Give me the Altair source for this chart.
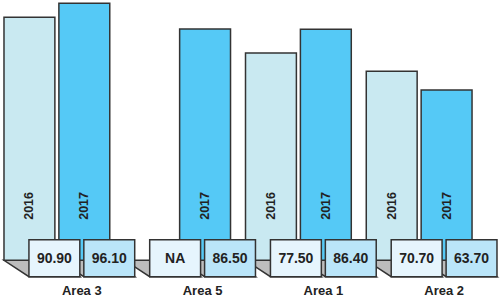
import altair as alt
import pandas as pd

# ---- data ----
areas = ["Area 3", "Area 5", "Area 1", "Area 2"]
years = ["2016", "2017"]
values_2016 = [90.90, None, 77.50, 70.70]
values_2017 = [96.10, 86.50, 86.40, 63.70]

# ---- layout / style constants (in scale units) ----
GROUP_PITCH = 2.2
BAR_W = 0.927
DEPTH_X = 0.4545
DEPTH_Y = 6.16

bar_colors = ["#c9e9f1", "#55c9f6"]
box_colors = ["#e6f5fd", "#bae5f9"]
STROKE = "#333333"
FONT = "Liberation Sans"

rows = []
floor_rows = []
for g, area in enumerate(areas):
    for j, (year, vals) in enumerate(zip(years, [values_2016, values_2017])):
        v = vals[g]
        left = g * GROUP_PITCH + j
        bar_id = f"b{g}{j}"
        rows.append(dict(
            area=area, year=year, value=v,
            left=left, right=left + BAR_W, mid=left + BAR_W / 2,
            bleft=left + DEPTH_X, bright=left + BAR_W + DEPTH_X,
            bmid=left + BAR_W / 2 + DEPTH_X,
            label=(f"{v:.2f}" if v is not None else "NA"),
        ))
        # parallelogram "floor" under each bar
        pts = [
            (left, 0.0, 0.0),
            (left + DEPTH_X, 0.0, -DEPTH_Y),
            (left + BAR_W, 0.0, -DEPTH_Y),
            (left + BAR_W + DEPTH_X, -DEPTH_Y, -DEPTH_Y),
        ]
        for px, top, bot in pts:
            floor_rows.append(dict(bar=bar_id, fx=px, ftop=top, fbot=bot))

df = pd.DataFrame(rows)
floor_df = pd.DataFrame(floor_rows)

group_df = pd.DataFrame(dict(
    area=areas,
    cx=[g * GROUP_PITCH + DEPTH_X + (1 + BAR_W) / 2 for g in range(len(areas))],
))

xscale = alt.Scale(domain=[-0.0545, 9.0364], nice=False, zero=False)
yscale = alt.Scale(domain=[-15.49, 97.2], nice=False, zero=False)

floor = alt.Chart(floor_df).mark_area(
    fill="#bdbdbd", stroke=STROKE, strokeWidth=1.5, orient="vertical", opacity=1
).encode(
    x=alt.X("fx:Q", scale=xscale, axis=None),
    y=alt.Y("ftop:Q", scale=yscale, axis=None, stack=None),
    y2=alt.Y2("fbot:Q"),
    detail="bar:N",
)

base = alt.Chart(df)

bars = base.transform_filter("isValid(datum.value)").mark_rect(
    stroke=STROKE, strokeWidth=1.5
).encode(
    x=alt.X("left:Q", scale=xscale, axis=None),
    x2="right:Q",
    y=alt.Y("value:Q", scale=yscale, axis=None),
    y2=alt.datum(0),
    fill=alt.Fill("year:N", scale=alt.Scale(domain=years, range=bar_colors), legend=None),
)

year_text = base.transform_filter("isValid(datum.value)").mark_text(
    angle=270, font=FONT, fontWeight="bold", fontSize=12.5, color="#222222",
    align="center", baseline="middle"
).encode(
    x=alt.X("mid:Q", scale=xscale, axis=None),
    y=alt.value(206),
    text="year:N",
)

boxes = base.mark_rect(stroke=STROKE, strokeWidth=1.5).encode(
    x=alt.X("bleft:Q", scale=xscale, axis=None),
    x2="bright:Q",
    y=alt.value(240),
    y2=alt.value(277),
    fill=alt.Fill("year:N", scale=alt.Scale(domain=years, range=box_colors), legend=None),
)

value_text = base.mark_text(
    font=FONT, fontWeight="bold", fontSize=14, color="#222222",
    align="center", baseline="middle"
).encode(
    x=alt.X("bmid:Q", scale=xscale, axis=None),
    y=alt.value(259),
    text="label:N",
)

area_text = alt.Chart(group_df).mark_text(
    font=FONT, fontWeight="bold", fontSize=13, color="#222222",
    align="center", baseline="middle"
).encode(
    x=alt.X("cx:Q", scale=xscale, axis=None),
    y=alt.value(291),
    text="area:N",
)

chart = alt.layer(floor, bars, year_text, boxes, value_text, area_text).resolve_scale(
    fill="independent"
).properties(
    width=500, height=302, padding=0
).configure_view(stroke=None)

chart.save("out.html", embed_options={"renderer": "svg", "actions": False})
